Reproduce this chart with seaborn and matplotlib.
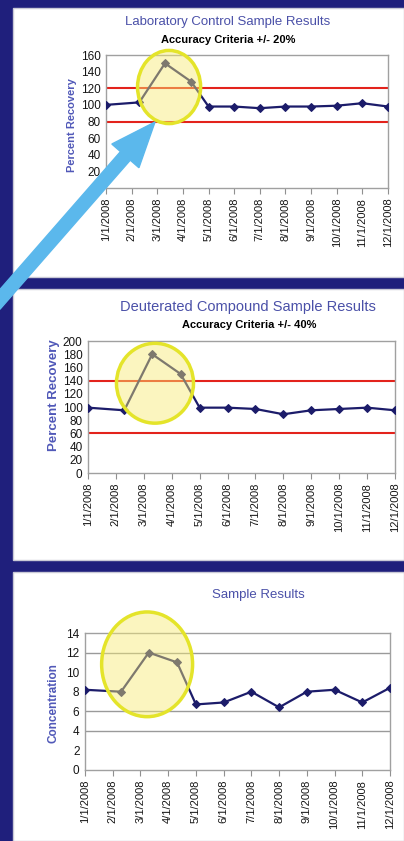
import matplotlib
matplotlib.use('Agg')
import matplotlib.pyplot as plt
from matplotlib import font_manager
from matplotlib.patches import Ellipse, Rectangle, FancyArrow
from matplotlib.transforms import IdentityTransform
import seaborn as sns

# data
months = ['1/1/2008', '2/1/2008', '3/1/2008', '4/1/2008', '5/1/2008', '6/1/2008',
          '7/1/2008', '8/1/2008', '9/1/2008', '10/1/2008', '11/1/2008', '12/1/2008']
month_pos = [0, 1, 2, 3, 4, 5, 6, 7, 8, 9, 10, 11]
sample_pos = [0, 1.3, 2.3, 3.32, 4, 5, 6, 7, 8, 9, 10, 11]

lcs_recovery = [100, 103, 150, 128, 98, 98, 96, 98, 98, 99, 102, 98]
lcs_limits = [80, 120]

deut_recovery = [99, 95, 180, 150, 99, 99, 97, 89, 95, 97, 99, 95]
deut_limits = [60, 140]

concentration = [8.2, 8.0, 12.0, 11.0, 6.7, 6.9, 8.0, 6.4, 8.0, 8.2, 6.9, 8.4]
conc_grid = [4, 6, 12]

sns.set_theme(style='white')
plt.rcParams['font.family'] = ['Liberation Sans', 'DejaVu Sans']

names = {f.name for f in font_manager.fontManager.ttflist}
NARROW = 'Liberation Sans Narrow' if 'Liberation Sans Narrow' in names else 'Liberation Sans'

NAVY = '#1c1c6a'
TITLE_C = '#4a50a8'
LABEL_C = '#5058b8'
RED = '#e3231c'

W, H = 404, 841
fig = plt.figure(figsize=(W / 100, H / 100), dpi=100)
fig.patch.set_facecolor('#1f1f7c')


def box(x0, y0, x1, y1):
    # picture pixels (top-left origin) -> figure fraction
    return [x0 / W, 1 - y1 / H, (x1 - x0) / W, (y1 - y0) / H]


# white panels
for y0, y1 in [(8, 277), (289, 560), (572, 841)]:
    b = box(13, y0, 404, y1)
    fig.add_artist(Rectangle((b[0], b[1]), b[2], b[3], transform=fig.transFigure,
                             facecolor='white', edgecolor='#c9c9d6', lw=1, zorder=-1))


def panel(rect, values, ymax, ystep, ylabel, lab_xy, lab_size, ell, limits=None, grid=None):
    ax = fig.add_axes(box(*rect))
    if limits:
        for v in limits:
            ax.axhline(v, color=RED, lw=1.5, zorder=2)
    if grid:
        for v in grid:
            ax.axhline(v, color='#9a9a9a', lw=1, zorder=1)
    sns.lineplot(x=sample_pos, y=values, ax=ax, color=NAVY, marker='D', markersize=4.5,
                 markeredgecolor=NAVY, linewidth=1.6, zorder=3)
    ax.add_patch(Ellipse(ell[:2], ell[2], ell[3], facecolor=(0.97, 0.92, 0.45, 0.45),
                         edgecolor='#e4e42a', lw=2.5, zorder=4, clip_on=False))
    ax.set_xlim(0, 11)
    ax.set_ylim(0, ymax)
    ax.set_yticks(range(0, ymax + 1, ystep))
    ax.set_xticks(month_pos)
    ax.set_xticklabels(months, rotation=90, fontsize=8, color='#151515')
    ax.tick_params(axis='x', bottom=True, length=4, width=0.8, color='#909090', pad=3)
    ax.tick_params(axis='y', left=False, length=0, pad=4, labelsize=8.5, labelcolor='#151515')
    for t in ax.get_yticklabels():
        t.set_fontfamily(NARROW)
    for s in ax.spines.values():
        s.set_color('#a0a0a0')
        s.set_linewidth(1)
    ax.set_xlabel('')
    ax.set_ylabel(ylabel, color=LABEL_C, fontsize=lab_size, fontweight='bold')
    ax.yaxis.set_label_coords(*lab_xy)
    return ax


panel((106, 55, 388, 188), lcs_recovery, 160, 20, 'Percent Recovery', (-0.103, 0.47), 8,
      (2.46, 121.5, 2.46, 88), limits=lcs_limits)
panel((88, 341, 395, 473), deut_recovery, 200, 20, 'Percent Recovery', (-0.091, 0.59), 9.5,
      (2.4, 136, 2.76, 121), limits=deut_limits)
panel((85, 633, 390, 770), concentration, 14, 2, 'Concentration', (-0.082, 0.49), 8.5,
      (2.24, 10.8, 3.28, 10.7), grid=conc_grid)

# titles
fig.text(228 / W, 1 - 22 / H, 'Laboratory Control Sample Results', ha='center', va='center',
         fontsize=9.5, color=TITLE_C)
fig.text(228 / W, 1 - 40 / H, 'Accuracy Criteria +/- 20%', ha='center', va='center',
         fontsize=8, fontweight='bold', family=NARROW, color='black')
fig.text(248 / W, 1 - 307 / H, 'Deuterated Compound Sample Results', ha='center', va='center',
         fontsize=10.5, color=TITLE_C)
fig.text(249 / W, 1 - 325 / H, 'Accuracy Criteria +/- 40%', ha='center', va='center',
         fontsize=8, fontweight='bold', family=NARROW, color='black')
fig.text(258 / W, 1 - 595 / H, 'Sample Results', ha='center', va='center',
         fontsize=9.5, color=TITLE_C)

# the pointing arrow
fig.add_artist(FancyArrow(-5, H - 305, 160, 183, width=13, head_width=36, head_length=45,
                          length_includes_head=True, transform=IdentityTransform(),
                          color='#5bb8ec', zorder=10))

fig.savefig('out.png', dpi=100, facecolor=fig.get_facecolor())
